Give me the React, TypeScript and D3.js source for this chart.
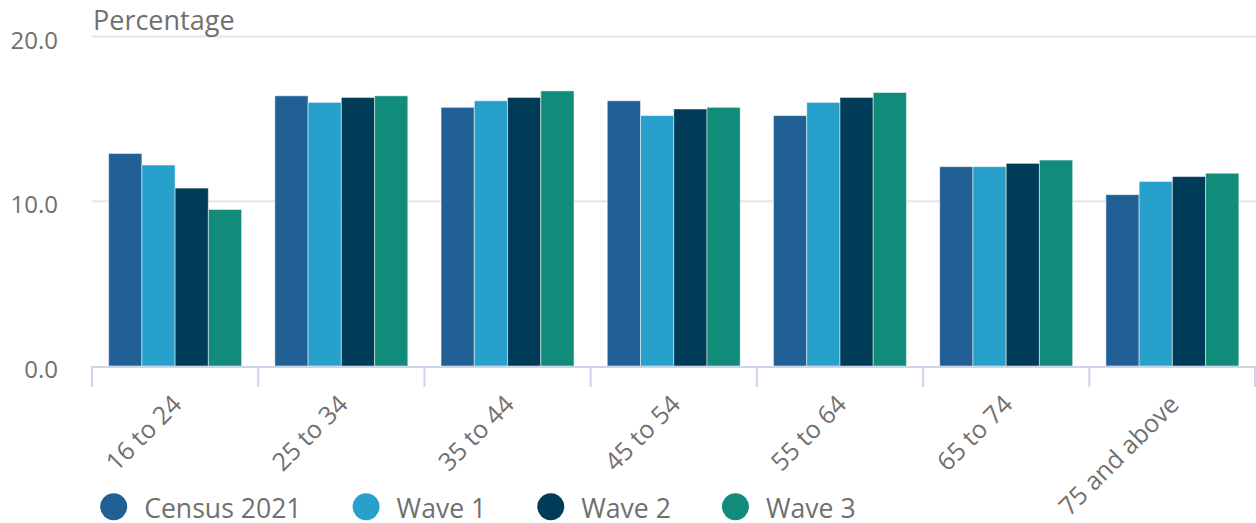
import React, { useEffect, useRef, useState } from "react";
import * as d3 from "d3";

const categories = ["16 to 24", "25 to 34", "35 to 44", "45 to 54", "55 to 64", "65 to 74", "75 and above"];
const seriesNames = ["Census 2021", "Wave 1", "Wave 2", "Wave 3"];
const census2021 = [12.9, 16.4, 15.7, 16.1, 15.2, 12.1, 10.4];
const wave1 = [12.2, 16.0, 16.1, 15.2, 16.0, 12.1, 11.2];
const wave2 = [10.8, 16.3, 16.3, 15.6, 16.3, 12.3, 11.5];
const wave3 = [9.5, 16.4, 16.7, 15.7, 16.6, 12.5, 11.7];
const seriesColors = ["#206095", "#27a0cc", "#003c57", "#118c7b"];
const yTicks = [0, 10, 20];

const W = 1256;
const H = 523;
const FONT = "'Open Sans', 'Noto Sans', sans-serif";
const TEXT = "#707070";

export default function App() {
  const series = [census2021, wave1, wave2, wave3];
  const x0 = d3.scaleBand<string>().domain(categories).range([92, 1255.5]).paddingInner(0).paddingOuter(0);
  const bw = x0.bandwidth();
  const x1 = d3.scaleBand<string>().domain(seriesNames).range([bw * 0.1, bw * 0.9]).padding(0);
  const y = d3.scaleLinear().domain([0, 20]).range([366, 36.5]);

  const legendRefs = useRef<(SVGTextElement | null)[]>([]);
  const [legendX, setLegendX] = useState<number[]>([113.7, 365, 549, 732.7]);

  useEffect(() => {
    const r = 13.5;
    const textGap = 17;
    const itemGap = 51;
    const xs: number[] = [];
    let cx = 113.7;
    seriesNames.forEach((_, i) => {
      xs.push(cx);
      const t = legendRefs.current[i];
      const len = t ? t.getComputedTextLength() : 100;
      cx = cx + r + textGap + len + itemGap + r;
    });
    setLegendX(xs);
  }, []);

  return (
    <svg width={W} height={H} style={{ position: "absolute", left: 0, top: 0, background: "#fff" }} fontFamily={FONT}>
      {/* horizontal gridlines */}
      {yTicks.filter((t) => t !== 0).map((t) => (
        <line key={t} x1={92} x2={W} y1={y(t)} y2={y(t)} stroke="#e6e6e6" strokeWidth={2} />
      ))}
      {/* y tick labels */}
      {yTicks.map((t) => (
        <text key={t} x={58} y={y(t) + 12} textAnchor="end" fontSize={24} fill={TEXT}>
          {d3.format(".1f")(t)}
        </text>
      ))}
      <text x={93} y={30} fontSize={27} fill={TEXT}>Percentage</text>

      {/* bars */}
      {categories.map((c, ci) => (
        <g key={c} transform={`translate(${x0(c)},0)`}>
          {series.map((vals, si) => (
            <rect
              key={si}
              x={x1(seriesNames[si])}
              y={y(vals[ci])}
              width={x1.bandwidth()}
              height={y(0) - y(vals[ci])}
              fill={seriesColors[si]}
              stroke="#ffffff"
              strokeOpacity={0.5}
              strokeWidth={1}
            />
          ))}
        </g>
      ))}

      {/* x axis */}
      <line x1={92} x2={W} y1={y(0) + 1} y2={y(0) + 1} stroke="#ccd6eb" strokeWidth={2} />
      {[...categories.map((c) => x0(c) as number), 1255].map((tx, i) => (
        <line key={i} x1={tx} x2={tx} y1={y(0)} y2={y(0) + 21} stroke="#ccd6eb" strokeWidth={2} />
      ))}
      {categories.map((c) => {
        const cx = (x0(c) as number) + bw / 2 + 8;
        const cy = 406;
        return (
          <text key={c} x={cx} y={cy} textAnchor="end" fontSize={25} fill={TEXT} transform={`rotate(-45 ${cx} ${cy})`}>
            {c}
          </text>
        );
      })}

      {/* legend */}
      {seriesNames.map((s, i) => (
        <g key={s}>
          <circle cx={legendX[i]} cy={506.7} r={13.5} fill={seriesColors[i]} />
          <text
            ref={(el) => { legendRefs.current[i] = el; }}
            x={legendX[i] + 13.5 + 17}
            y={518}
            fontSize={26.6}
            fill={TEXT}
          >
            {s}
          </text>
        </g>
      ))}
    </svg>
  );
}
